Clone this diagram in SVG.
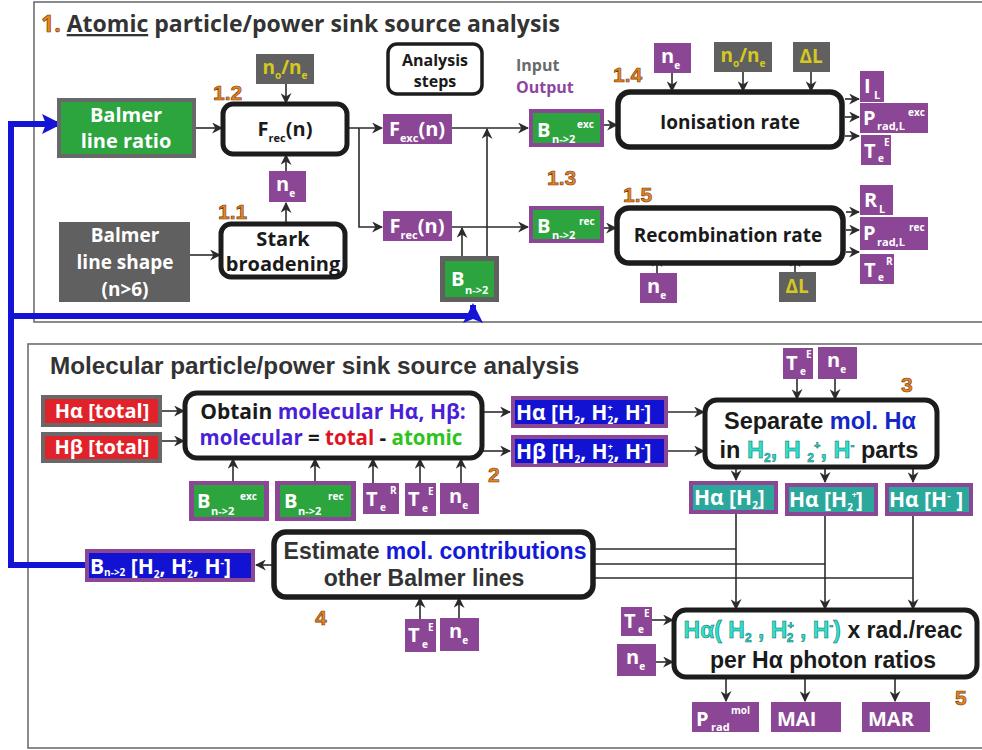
<svg xmlns="http://www.w3.org/2000/svg" width="982" height="750" viewBox="0 0 982 750">
<defs>
<marker id="ah" viewBox="0 0 10 10" refX="9" refY="5" markerWidth="11" markerHeight="11" markerUnits="userSpaceOnUse" orient="auto"><path d="M0,0 L10,5 L0,10 L3,5 z" fill="#2b2b2b"/></marker>
<marker id="bh" viewBox="0 0 10 10" refX="9" refY="5" markerWidth="20" markerHeight="20" markerUnits="userSpaceOnUse" orient="auto"><path d="M0,0 L10,5 L0,10 L2,5 z" fill="#1414d6"/></marker>
<style>
.frame{fill:none;stroke:#6e6e6e;stroke-width:1.6}
.pu{fill:#8b4796}
.gy{fill:#606060}
.gy2{fill:#686868}
.gn{fill:#2da53f}
.rd{fill:#e2222a}
.bl{fill:#1212d2}
.tl{fill:#2ba89b}
.step{fill:#fff;stroke:#1c1c1c;stroke-width:5}
.w{font-family:"Open Sans","Liberation Sans",sans-serif;font-weight:700;fill:#fff}
.y{font-family:"Open Sans","Liberation Sans",sans-serif;font-weight:700;fill:#d6c81e}
.k{font-family:"Open Sans","Liberation Sans",sans-serif;font-weight:700;fill:#1a1a1a}
.a{font-family:"Liberation Sans",Arial,sans-serif;font-weight:700;fill:#1a1a1a}
.num{font-family:"Liberation Sans",Arial,sans-serif;font-weight:700;font-size:21px;fill:#ea821f;stroke:#6b3a0e;stroke-width:0.6}
.c{fill:none;stroke:#2b2b2b;stroke-width:1.6}
.ca{fill:none;stroke:#2b2b2b;stroke-width:1.6;marker-end:url(#ah)}
.blue{fill:none;stroke:#1414d6;stroke-width:6}
.mid{text-anchor:middle}
</style>
</defs>

<!-- frames -->
<rect class="frame" x="34" y="2" width="952" height="320"/>
<rect class="frame" x="28" y="344" width="958" height="404"/>

<!-- titles -->
<g id="title1">
<text x="41" y="32" font-family="Open Sans, Liberation Sans, sans-serif" font-weight="700" font-size="23" fill="#333"><tspan fill="#ea821f" stroke="#6b3a0e" stroke-width="0.6">1.</tspan> <tspan text-decoration="underline">Atomic</tspan> particle/power sink source analysis</text>
</g>
<text id="title2" x="50" y="374" class="a" font-size="24.3" style="fill:#333">Molecular particle/power sink source analysis</text>

<!-- connectors -->
<g id="connectors">
<path class="ca" d="M196,128 H222"/>
<path class="ca" d="M286,84 V103"/>
<path class="ca" d="M286,171 V155"/>
<path class="ca" d="M286,224 V203"/>
<path class="ca" d="M190,255 H220"/>
<path class="ca" d="M347,128 H382"/>
<path class="ca" d="M359,128 V227 H382"/>
<path class="ca" d="M452,128 H528"/>
<path class="ca" d="M452,227 H528"/>
<path class="ca" d="M462,256 V228"/>
<path class="ca" d="M487,256 V129"/>
<path class="ca" d="M604,125 H617"/>
<path class="ca" d="M604,228 H616"/>
<path class="ca" d="M672,73 V91"/>
<path class="ca" d="M743,72 V91"/>
<path class="ca" d="M811,72 V91"/>
<path class="ca" d="M845,99 H859"/>
<path class="ca" d="M845,117 H859"/>
<path class="ca" d="M845,136 H859"/>
<path class="ca" d="M846,212 H859"/>
<path class="ca" d="M846,230 H859"/>
<path class="ca" d="M846,252 H859"/>
<path class="ca" d="M657,273 V257"/>
<path class="ca" d="M795,272 V257"/>
<!-- lower -->
<path class="ca" d="M162,411 H184"/>
<path class="ca" d="M162,441 H184"/>
<path class="ca" d="M233,481 V459"/>
<path class="ca" d="M315,481 V459"/>
<path class="ca" d="M373,483 V459"/>
<path class="ca" d="M420,483 V459"/>
<path class="ca" d="M461,483 V459"/>
<path class="ca" d="M482,412 H510"/>
<path class="ca" d="M482,451 H510"/>
<path class="ca" d="M668,412 H704"/>
<path class="ca" d="M668,451 H704"/>
<path class="ca" d="M797,379 V399"/>
<path class="ca" d="M835,379 V399"/>
<path class="ca" d="M736,467 V480"/>
<path class="ca" d="M825,467 V482"/>
<path class="ca" d="M913,467 V482"/>
<path class="ca" d="M736,514 V609"/>
<path class="ca" d="M825,516 V609"/>
<path class="ca" d="M913,516 V609"/>
<path class="c" d="M593,549 H736"/>
<path class="c" d="M593,564 H825"/>
<path class="c" d="M593,578 H913"/>
<path class="ca" d="M274,565 H256"/>
<path class="ca" d="M420,619 V598"/>
<path class="ca" d="M459,618 V598"/>
<path class="ca" d="M652,620 H673"/>
<path class="ca" d="M656,662 H673"/>
<path class="ca" d="M726,677 V701"/>
<path class="ca" d="M805,677 V701"/>
<path class="ca" d="M895,677 V701"/>
<!-- blue feedback -->
<path class="blue" d="M86,565 H11 V124 H60" marker-end="url(#bh)"/>
<path class="blue" d="M11,316 H473 V305" marker-end="url(#bh)"/>
</g>

<!-- ===== top section nodes ===== -->
<g id="balmer-ratio">
<rect class="gy2" x="57" y="98" width="139" height="60"/>
<rect class="gn" x="61" y="102" width="131" height="52"/>
<text class="w mid" x="126" y="122" font-size="20">Balmer</text>
<text class="w mid" x="126" y="148" font-size="20">line ratio</text>
</g>
<g id="balmer-shape">
<rect class="gy" x="59" y="222" width="131" height="80"/>
<text class="w mid" x="125" y="242" font-size="19">Balmer</text>
<text class="w mid" x="125" y="269" font-size="19">line shape</text>
<text class="w mid" x="125" y="296" font-size="19">(n&gt;6)</text>
</g>
<g id="frec-step">
<rect class="step" x="223" y="104" width="124" height="50" rx="10"/>
<text class="k mid" x="285" y="136" font-size="20">F<tspan font-size="11" dy="6">rec</tspan><tspan dy="-6">(n)</tspan></text>
</g>
<g id="no-ne-1">
<rect class="gy" x="256" y="54" width="58" height="30"/>
<text class="y mid" x="285" y="74" font-size="19">n<tspan font-size="10" dy="5">o</tspan><tspan dy="-5">/n</tspan><tspan font-size="10" dy="5">e</tspan></text>
</g>
<g id="ne-1">
<rect class="pu" x="269" y="171" width="37" height="31"/>
<text class="w" x="276" y="191" font-size="20">n<tspan font-size="10" dy="6">e</tspan></text>
</g>
<g id="stark">
<rect class="step" x="221" y="224" width="124" height="53" rx="10"/>
<text class="k mid" x="283" y="246" font-size="20">Stark</text>
<text class="k mid" x="283" y="271" font-size="20">broadening</text>
</g>
<text class="num" x="213" y="100">1.2</text>
<text class="num" x="218" y="219">1.1</text>

<g id="legend">
<rect fill="#fff" stroke="#1c1c1c" stroke-width="3.5" x="388" y="44" width="94" height="50" rx="9"/>
<text class="k mid" x="435" y="66" font-size="16">Analysis</text>
<text class="k mid" x="435" y="87" font-size="16">steps</text>
<text x="516" y="71" font-family="Open Sans, Liberation Sans, sans-serif" font-weight="700" font-size="16" fill="#6a6a6a">Input</text>
<text x="516" y="93" font-family="Open Sans, Liberation Sans, sans-serif" font-weight="700" font-size="16" fill="#8e44a0">Output</text>
</g>

<g id="fexc">
<rect class="pu" x="383" y="114" width="69" height="30"/>
<text class="w mid" x="417" y="136" font-size="20">F<tspan font-size="11" dy="6">exc</tspan><tspan dy="-6">(n)</tspan></text>
</g>
<g id="frec">
<rect class="pu" x="383" y="211" width="69" height="30"/>
<text class="w mid" x="417" y="233" font-size="20">F<tspan font-size="11" dy="6">rec</tspan><tspan dy="-6">(n)</tspan></text>
</g>
<g id="b-exc-1">
<rect class="pu" x="529" y="109" width="75" height="38"/>
<rect class="gn" x="533" y="113" width="67" height="30"/>
<text class="w" x="537" y="137" font-size="20">B</text>
<text class="w" x="552" y="143" font-size="11">n-&gt;2</text>
<text class="w" x="577" y="128" font-size="10">exc</text>
</g>
<g id="b-rec-1">
<rect class="pu" x="529" y="206" width="75" height="37"/>
<rect class="gn" x="533" y="210" width="67" height="29"/>
<text class="w" x="537" y="233" font-size="20">B</text>
<text class="w" x="552" y="239" font-size="11">n-&gt;2</text>
<text class="w" x="579" y="225" font-size="10">rec</text>
</g>
<g id="b-n2">
<rect class="gy" x="440" y="256" width="59" height="46"/>
<rect class="gn" x="445" y="261" width="49" height="36"/>
<text class="w" x="451" y="286" font-size="20">B</text>
<text class="w" x="465" y="294" font-size="11">n-&gt;2</text>
</g>
<text class="num" x="547" y="185">1.3</text>
<text class="num" x="613" y="82">1.4</text>
<text class="num" x="623" y="202">1.5</text>

<g id="ionisation">
<rect class="step" x="618" y="92" width="224" height="55" rx="12" style="stroke-width:5.5"/>
<text class="k mid" x="730" y="129" font-size="19">Ionisation rate</text>
</g>
<g id="recombination">
<rect class="step" x="617" y="208" width="226" height="55" rx="12" style="stroke-width:5.5"/>
<text class="k mid" x="728" y="242" font-size="19">Recombination rate</text>
</g>
<g id="ne-2">
<rect class="pu" x="654" y="43" width="37" height="30"/>
<text class="w" x="661" y="63" font-size="20">n<tspan font-size="10" dy="6">e</tspan></text>
</g>
<g id="no-ne-2">
<rect class="gy" x="714" y="42" width="58" height="30"/>
<text class="y mid" x="743" y="62" font-size="19">n<tspan font-size="10" dy="5">o</tspan><tspan dy="-5">/n</tspan><tspan font-size="10" dy="5">e</tspan></text>
</g>
<g id="dl-1">
<rect class="gy" x="793" y="42" width="37" height="30"/>
<text class="y mid" x="811" y="63" font-size="19">ΔL</text>
</g>
<g id="il">
<rect class="pu" x="860" y="71" width="24" height="31"/>
<text class="w" x="864" y="93" font-size="20">I</text>
<text class="w" x="874" y="99" font-size="11">L</text>
</g>
<g id="prad-exc">
<rect class="pu" x="860" y="103" width="68" height="30"/>
<text class="w" x="863" y="125" font-size="20">P</text>
<text class="w" x="877" y="130" font-size="11">rad,L</text>
<text class="w" x="908" y="116" font-size="10">exc</text>
</g>
<g id="te-e-1">
<rect class="pu" x="861" y="135" width="30" height="30"/>
<text class="w" x="864" y="158" font-size="20">T</text>
<text class="w" x="878" y="162" font-size="10">e</text>
<text class="w" x="884" y="146" font-size="10">E</text>
</g>
<g id="rl">
<rect class="pu" x="860" y="185" width="33" height="30"/>
<text class="w" x="864" y="207" font-size="20">R</text>
<text class="w" x="879" y="213" font-size="11">L</text>
</g>
<g id="prad-rec">
<rect class="pu" x="860" y="217" width="68" height="33"/>
<text class="w" x="863" y="240" font-size="20">P</text>
<text class="w" x="877" y="246" font-size="11">rad,L</text>
<text class="w" x="909" y="231" font-size="10">rec</text>
</g>
<g id="te-r-1">
<rect class="pu" x="860" y="254" width="34" height="30"/>
<text class="w" x="864" y="277" font-size="20">T</text>
<text class="w" x="878" y="281" font-size="10">e</text>
<text class="w" x="886" y="265" font-size="10">R</text>
</g>
<g id="ne-3">
<rect class="pu" x="640" y="273" width="37" height="30"/>
<text class="w" x="647" y="293" font-size="20">n<tspan font-size="10" dy="6">e</tspan></text>
</g>
<g id="dl-2">
<rect class="gy" x="779" y="272" width="37" height="30"/>
<text class="y mid" x="797" y="293" font-size="19">ΔL</text>
</g>

<!-- ===== lower section nodes ===== -->
<g id="ha-total">
<rect class="gy2" x="41" y="395" width="121" height="32"/>
<rect class="rd" x="45" y="399" width="113" height="24"/>
<text class="w mid" x="102" y="418" font-size="20">Hα [total]</text>
</g>
<g id="hb-total">
<rect class="gy2" x="41" y="432" width="121" height="31"/>
<rect class="rd" x="45" y="436" width="113" height="23"/>
<text class="w mid" x="102" y="454" font-size="20">Hβ [total]</text>
</g>
<g id="obtain">
<rect class="step" x="185" y="393" width="297" height="65" rx="12"/>
<text class="k mid" x="333" y="419" font-size="21">Obtain <tspan fill="#4a1fd8">molecular Hα, Hβ:</tspan></text>
<text class="k mid" x="331" y="445" font-size="20.5"><tspan fill="#4a1fd8">molecular</tspan> = <tspan fill="#e0141e">total</tspan> - <tspan fill="#2cc41a">atomic</tspan></text>
</g>
<g id="b-exc-2">
<rect class="pu" x="189" y="481" width="80" height="40"/>
<rect class="gn" x="194" y="485" width="70" height="32"/>
<text class="w" x="197" y="508" font-size="20">B</text>
<text class="w" x="211" y="515" font-size="11">n-&gt;2</text>
<text class="w" x="240" y="500" font-size="10">exc</text>
</g>
<g id="b-rec-2">
<rect class="pu" x="275" y="481" width="81" height="40"/>
<rect class="gn" x="280" y="485" width="71" height="32"/>
<text class="w" x="284" y="508" font-size="20">B</text>
<text class="w" x="298" y="515" font-size="11">n-&gt;2</text>
<text class="w" x="328" y="500" font-size="10">rec</text>
</g>
<g id="te-r-2">
<rect class="pu" x="363" y="483" width="36" height="31"/>
<text class="w" x="366" y="506" font-size="20">T</text>
<text class="w" x="380" y="511" font-size="10">e</text>
<text class="w" x="390" y="494" font-size="10">R</text>
</g>
<g id="te-e-2">
<rect class="pu" x="405" y="483" width="31" height="33"/>
<text class="w" x="408" y="506" font-size="20">T</text>
<text class="w" x="422" y="512" font-size="10">e</text>
<text class="w" x="428" y="495" font-size="10">E</text>
</g>
<g id="ne-4">
<rect class="pu" x="440" y="483" width="39" height="31"/>
<text class="w" x="449" y="503" font-size="20">n<tspan font-size="10" dy="6">e</tspan></text>
</g>
<text class="num" x="488" y="482">2</text>

<g id="ha-mol">
<rect class="pu" x="511" y="396" width="157" height="32"/>
<rect class="bl" x="515" y="400" width="149" height="24"/>
<text class="w" x="516" y="420" font-size="21">Hα [H<tspan font-size="10" dy="4">2</tspan><tspan dy="-4">, H</tspan><tspan font-size="9" dy="-9">+</tspan><tspan font-size="10" dx="-5" dy="13">2</tspan><tspan dy="-4">, H</tspan><tspan font-size="11" dy="-8">-</tspan><tspan dy="8">]</tspan></text>
</g>
<g id="hb-mol">
<rect class="pu" x="511" y="435" width="157" height="32"/>
<rect class="bl" x="515" y="439" width="149" height="24"/>
<text class="w" x="516" y="459" font-size="21">Hβ [H<tspan font-size="10" dy="4">2</tspan><tspan dy="-4">, H</tspan><tspan font-size="9" dy="-9">+</tspan><tspan font-size="10" dx="-5" dy="13">2</tspan><tspan dy="-4">, H</tspan><tspan font-size="11" dy="-8">-</tspan><tspan dy="8">]</tspan></text>
</g>
<g id="separate">
<rect class="step" x="705" y="400" width="232" height="67" rx="12"/>
<text class="a mid" x="820" y="429" font-size="23.5">Separate <tspan fill="#1428c8">mol. Hα</tspan></text>
<text class="a mid" x="819" y="458" font-size="23.5">in <tspan fill="#2ee0cc" stroke="#0b6a60" stroke-width="0.5">H<tspan font-size="12" dy="4">2</tspan><tspan dy="-4">, H </tspan><tspan font-size="12" dy="4">2</tspan><tspan font-size="11" dy="-13">+</tspan><tspan dy="9">, H</tspan><tspan font-size="12" dy="-8">-</tspan></tspan><tspan dy="8"> parts</tspan></text>
</g>
<g id="te-e-3">
<rect class="pu" x="783" y="348" width="30" height="31"/>
<text class="w" x="786" y="370" font-size="20">T</text>
<text class="w" x="800" y="375" font-size="10">e</text>
<text class="w" x="806" y="358" font-size="10">E</text>
</g>
<g id="ne-5">
<rect class="pu" x="818" y="347" width="39" height="32"/>
<text class="w" x="827" y="367" font-size="20">n<tspan font-size="10" dy="6">e</tspan></text>
</g>
<text class="num" x="901" y="392">3</text>

<g id="ha-h2">
<rect class="pu" x="689" y="481" width="89" height="33"/>
<rect class="tl" x="693" y="485" width="81" height="25"/>
<text class="w" x="694" y="505" font-size="21">Hα [H<tspan font-size="10" dy="4">2</tspan><tspan dy="-4">]</tspan></text>
</g>
<g id="ha-h2p">
<rect class="pu" x="785" y="483" width="93" height="33"/>
<rect class="tl" x="789" y="487" width="85" height="25"/>
<text class="w" x="789" y="507" font-size="21">Hα [H<tspan font-size="10" dy="4">2</tspan><tspan font-size="9" dx="-1" dy="-13">+</tspan><tspan dx="-1" dy="9">]</tspan></text>
</g>
<g id="ha-hm">
<rect class="pu" x="885" y="483" width="88" height="33"/>
<rect class="tl" x="889" y="487" width="80" height="25"/>
<text class="w" x="889" y="507" font-size="21">Hα [H<tspan font-size="11" dy="-8">-</tspan><tspan dy="8"> ]</tspan></text>
</g>

<g id="estimate">
<rect class="step" x="274" y="532" width="319" height="65" rx="12" style="stroke-width:5.5"/>
<text class="a mid" x="435" y="559" font-size="23" style="fill:#333">Estimate <tspan fill="#1418d8">mol. contributions</tspan></text>
<text class="a mid" x="424" y="586" font-size="23" style="fill:#333">other Balmer lines</text>
</g>
<g id="b-mol">
<rect class="pu" x="85" y="549" width="170" height="33"/>
<rect class="bl" x="89" y="553" width="162" height="25"/>
<text class="w" x="90" y="574" font-size="21">B<tspan font-size="10" dy="2">n-&gt;2</tspan><tspan dy="-2"> [H</tspan><tspan font-size="10" dy="4">2</tspan><tspan dy="-4">, H</tspan><tspan font-size="9" dy="-9">+</tspan><tspan font-size="10" dx="-5" dy="13">2</tspan><tspan dy="-4">, H</tspan><tspan font-size="11" dy="-8">-</tspan><tspan dy="8">]</tspan></text>
</g>
<g id="te-e-4">
<rect class="pu" x="405" y="619" width="31" height="33"/>
<text class="w" x="408" y="642" font-size="20">T</text>
<text class="w" x="422" y="648" font-size="10">e</text>
<text class="w" x="428" y="631" font-size="10">E</text>
</g>
<g id="ne-6">
<rect class="pu" x="440" y="618" width="39" height="33"/>
<text class="w" x="449" y="638" font-size="20">n<tspan font-size="10" dy="6">e</tspan></text>
</g>
<text class="num" x="315" y="625">4</text>

<g id="ratios">
<rect class="step" x="674" y="610" width="303" height="67" rx="12"/>
<text class="a mid" x="823" y="638" font-size="23"><tspan fill="#2ee0cc" stroke="#0b6a60" stroke-width="0.5">Hα( H<tspan font-size="12" dy="4">2</tspan><tspan dy="-4"> , H</tspan><tspan font-size="11" dy="-9">+</tspan><tspan font-size="12" dx="-7" dy="13">2</tspan><tspan dy="-4"> , H</tspan><tspan font-size="12" dy="-8">-</tspan><tspan dy="8">)</tspan></tspan> x rad./reac</text>
<text class="a mid" x="823" y="668" font-size="23">per Hα photon ratios</text>
</g>
<g id="te-e-5">
<rect class="pu" x="621" y="607" width="31" height="29"/>
<text class="w" x="624" y="628" font-size="20">T</text>
<text class="w" x="638" y="633" font-size="10">e</text>
<text class="w" x="644" y="617" font-size="10">E</text>
</g>
<g id="ne-7">
<rect class="pu" x="617" y="644" width="39" height="32"/>
<text class="w" x="626" y="664" font-size="20">n<tspan font-size="10" dy="6">e</tspan></text>
</g>
<g id="prad-mol">
<rect class="pu" x="692" y="702" width="67" height="30"/>
<text class="w" x="696" y="726" font-size="20">P</text>
<text class="w" x="711" y="731" font-size="11">rad</text>
<text class="w" x="731" y="714" font-size="10">mol</text>
</g>
<g id="mai">
<rect class="pu" x="771" y="702" width="70" height="30"/>
<text class="w" x="777" y="726" font-size="20">MAI</text>
</g>
<g id="mar">
<rect class="pu" x="862" y="702" width="68" height="30"/>
<text class="w" x="868" y="726" font-size="20">MAR</text>
</g>
<text class="num" x="955" y="705">5</text>
</svg>
